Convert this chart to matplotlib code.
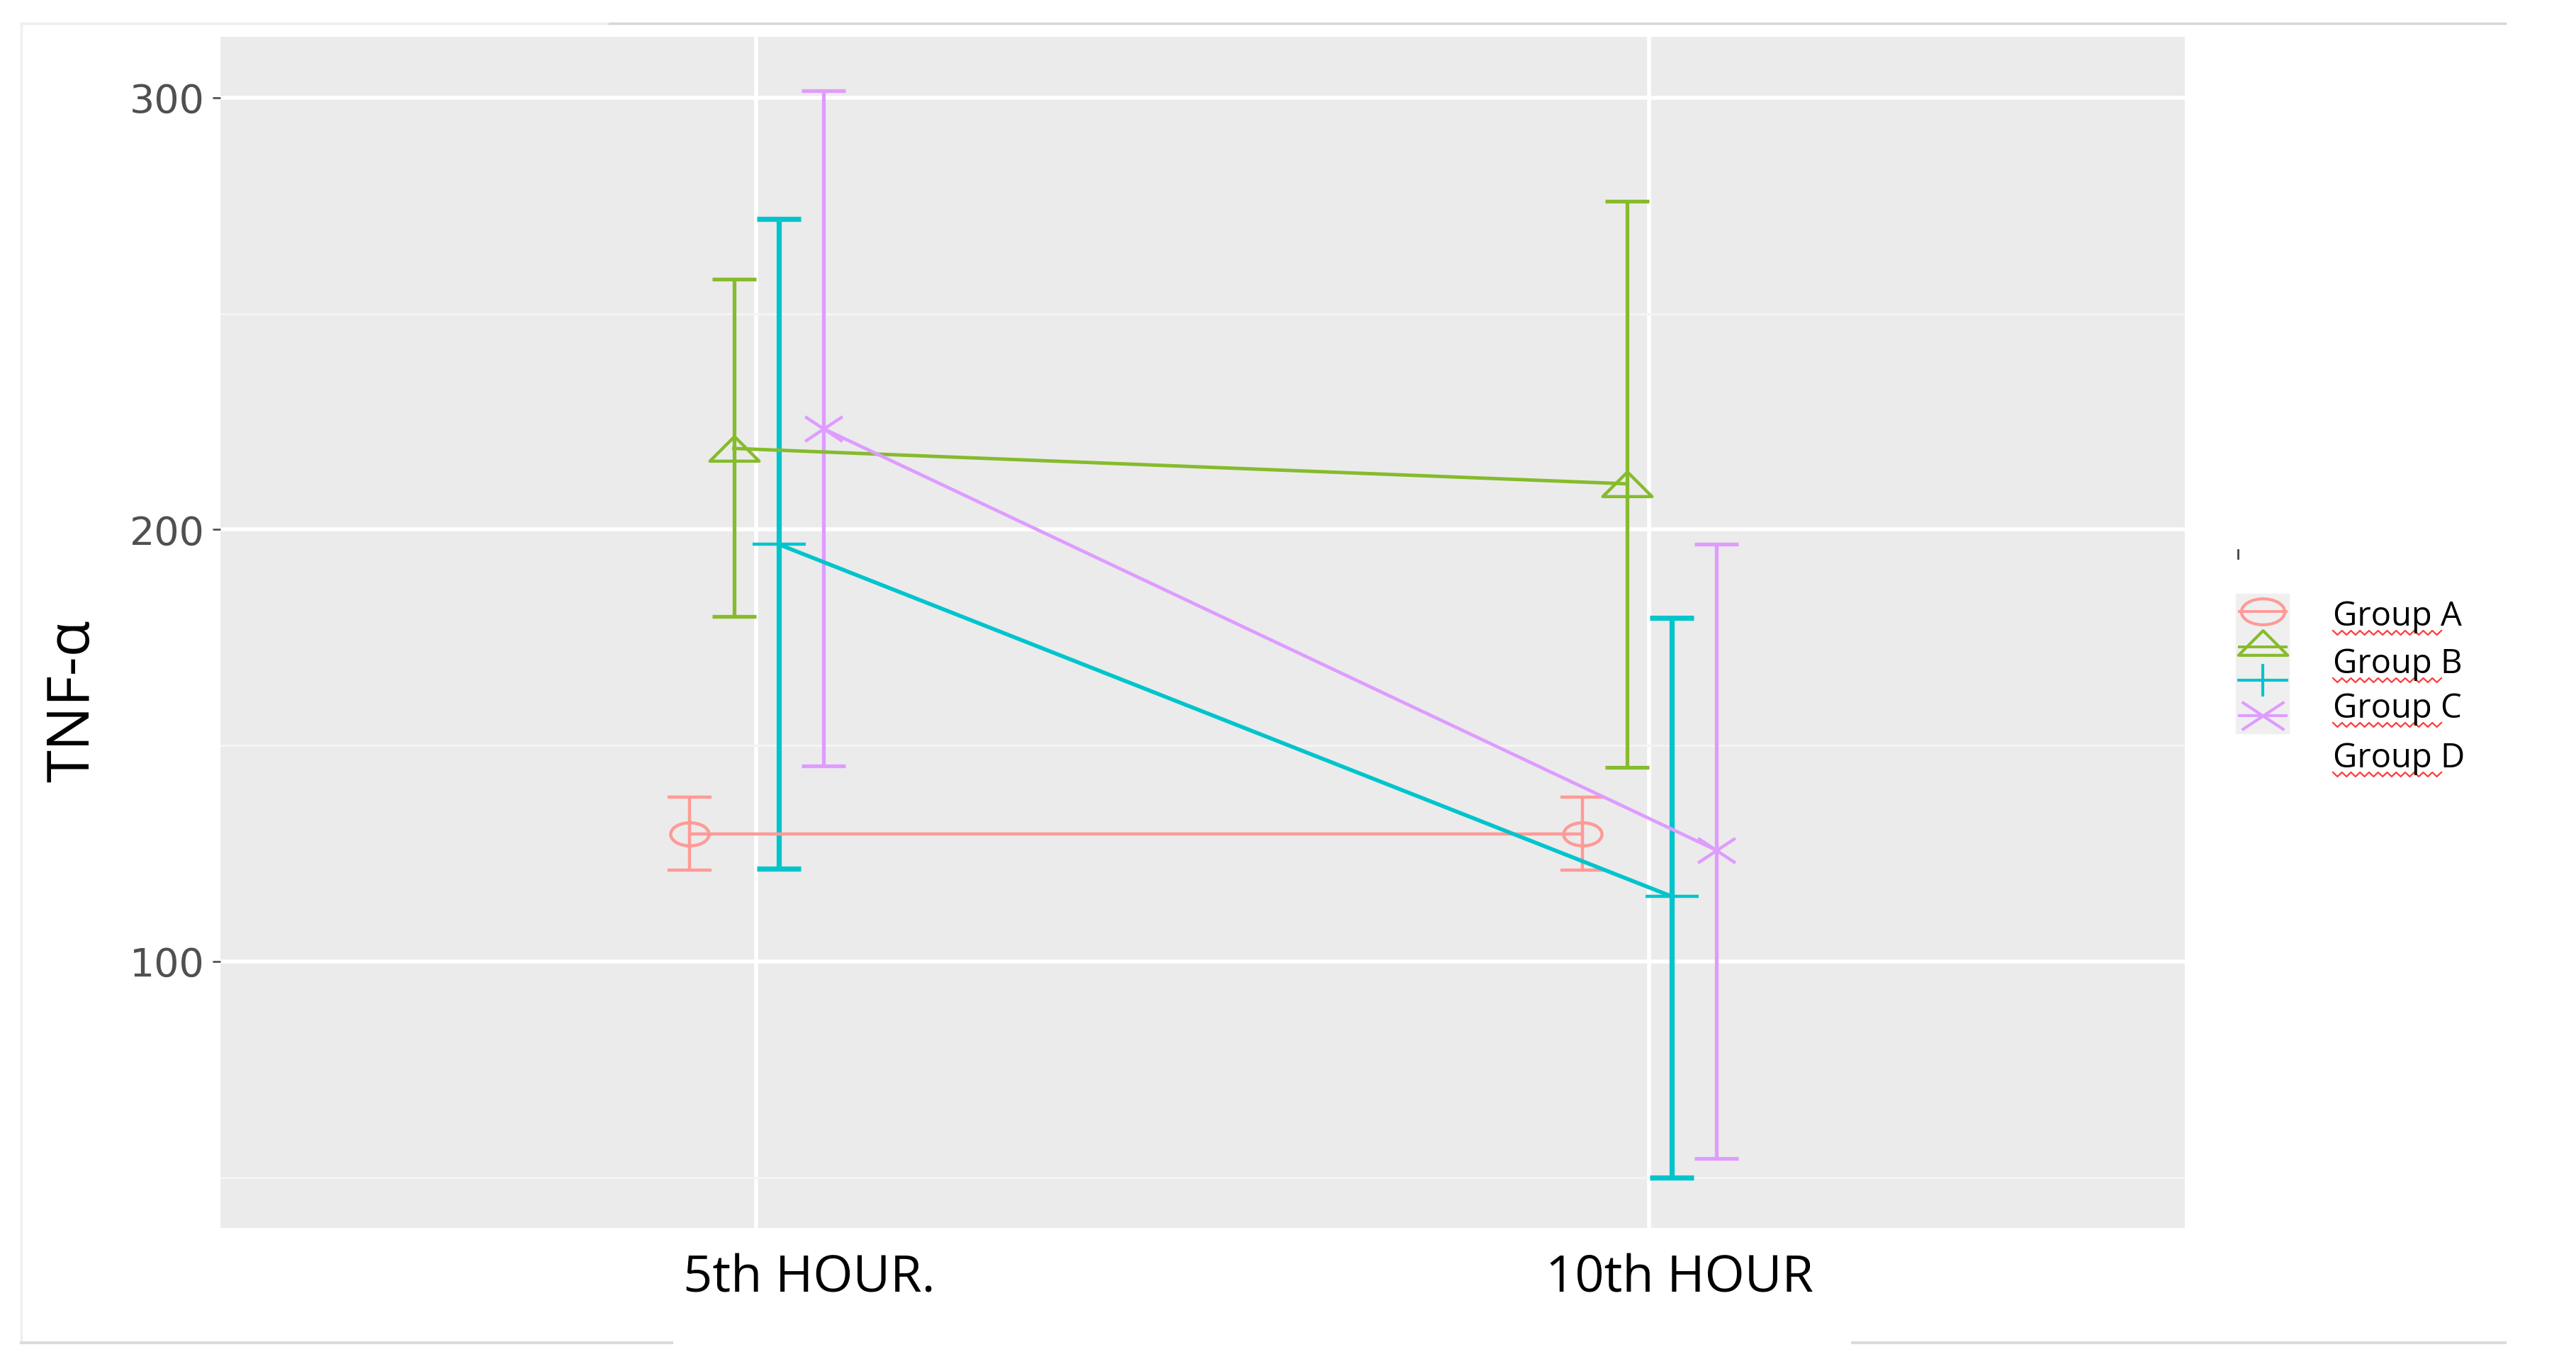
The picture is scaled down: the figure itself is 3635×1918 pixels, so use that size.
import numpy as np
import matplotlib
matplotlib.use('Agg')
import matplotlib.pyplot as plt
from matplotlib.path import Path
from matplotlib.transforms import Affine2D, ScaledTranslation

plt.rcParams['font.family'] = ['Open Sans', 'DejaVu Sans']

# 資料
hours = ['5th HOUR.', '10th HOUR']
groups = ['Group A', 'Group B', 'Group C', 'Group D']
dodge = [-0.075, -0.025, 0.025, 0.075]

mean_a = [129.5, 129.5]
lo_a = [121.2, 121.2]
hi_a = [138.1, 138.1]

mean_b = [218.8, 210.6]
lo_b = [179.9, 145.0]
hi_b = [258.0, 276.0]

mean_c = [196.6, 115.1]
lo_c = [121.5, 50.0]
hi_c = [271.9, 179.5]

mean_d = [223.4, 125.8]
lo_d = [145.3, 54.4]
hi_d = [301.6, 196.6]

y_ticks = [100, 200, 300]
y_minor = [50, 150, 250]

colors = ['#ff9a96', '#86bb2c', '#00c4cc', '#de9cff']
err_lw = [3.2, 3.8, 5.2, 3.8]
line_lw = [3.2, 3.5, 4.0, 3.4]

# 扁平的 ggplot 風格標記
m_circle = Path.unit_circle().transformed(Affine2D().scale(1.0, 0.6))
m_tri = Path([(-1, -0.5), (1, -0.5), (0, 0.5), (-1, -0.5)],
             [Path.MOVETO, Path.LINETO, Path.LINETO, Path.CLOSEPOLY])
m_plus = Path([(-1, 0), (1, 0), (0, -0.63), (0, 0.63)],
              [Path.MOVETO, Path.LINETO, Path.MOVETO, Path.LINETO])
m_x = Path([(-1, -0.66), (1, 0.66), (-1, 0.66), (1, -0.66)],
           [Path.MOVETO, Path.LINETO, Path.MOVETO, Path.LINETO])
markers = [m_circle, m_tri, m_plus, m_x]
msizes = [39, 50, 54, 38]

W, H = 3635, 1918
fig = plt.figure(figsize=(W / 100, H / 100), dpi=100)
fig.patch.set_facecolor('white')
ax = fig.add_axes([311 / W, 1 - 1733 / H, (3083 - 311) / W, (1733 - 52) / H])
ax.set_facecolor('#ebebeb')
for s in ax.spines.values():
    s.set_visible(False)

series = [(mean_a, lo_a, hi_a), (mean_b, lo_b, hi_b),
          (mean_c, lo_c, hi_c), (mean_d, lo_d, hi_d)]
xpos = np.arange(1, len(hours) + 1)

for i, (m, lo, hi) in enumerate(series):
    m = np.array(m)
    x = xpos + dodge[i]
    yerr = [m - np.array(lo), np.array(hi) - m]
    ax.errorbar(x, m, yerr=yerr, fmt='none', ecolor=colors[i],
                elinewidth=err_lw[i], capsize=22, capthick=err_lw[i], zorder=3)
    ax.plot(x, m, color=colors[i], lw=line_lw[i], zorder=4)
    ax.plot(x, m, linestyle='none', marker=markers[i], ms=msizes[i],
            mfc='none', mec=colors[i], mew=3.2, zorder=5)

ax.set_xlim(0.4, 2.6)
ax.set_ylim(38.3, 314.1)
ax.set_yticks(y_ticks)
ax.set_yticks(y_minor, minor=True)
ax.set_xticks(xpos)
ax.set_xticklabels(hours, fontsize=52, color='black')
ax.grid(True, which='major', color='white', lw=4.0, zorder=0)
ax.grid(True, which='minor', axis='y', color='#f4f4f4', lw=2.2, zorder=0)
ax.set_axisbelow(True)
ax.tick_params(axis='x', length=0, pad=26)
ax.tick_params(axis='y', which='major', length=8, width=2, color='#555555',
               pad=8, labelsize=40, labelcolor='#505050',
               labelfontfamily='DejaVu Sans')
ax.tick_params(axis='y', which='minor', length=0)

# 橫軸文字略向右偏
shifts = [75, 43]
for lab, dx in zip(ax.get_xticklabels(), shifts):
    lab.set_transform(lab.get_transform() + ScaledTranslation(dx / 100, 0, fig.dpi_scale_trans))

ax.set_ylabel('TNF-α', fontsize=60, color='black', va='center', ha='center')
ax.yaxis.set_label_coords((104 - 311) / (3083 - 311), (1733 - 989) / (1733 - 52))

# 外框與圖例（像素座標）
deco = fig.add_axes([0, 0, 1, 1], zorder=2)
deco.set_xlim(0, W)
deco.set_ylim(H, 0)
deco.set_axis_off()

deco.plot([30, 860], [33, 33], color='#eeeeee', lw=2.5)
deco.plot([860, 3535], [33, 33], color='#d6d6d6', lw=2.5)
deco.plot([30, 30], [33, 1895], color='#efefef', lw=2.5)
deco.plot([30, 948], [1895, 1895], color='#dcdcdc', lw=3)
deco.plot([2614, 3535], [1895, 1895], color='#dcdcdc', lw=3)

deco.plot([3158, 3158], [776, 788], color='#444444', lw=2)

deco.add_patch(plt.Rectangle((3155, 838), 75, 197, color='#efefef', zorder=1))
key_y = [863, 907, 960, 1010]
key_ms = [44, 50, 52, 43]
for i in range(4):
    deco.plot([3160, 3226], [key_y[i] + (6 if i == 1 else 0)] * 2,
              color=colors[i], lw=2.8, zorder=2)
    deco.plot([3193], [key_y[i]], linestyle='none', marker=markers[i], ms=key_ms[i],
              mfc='none', mec=colors[i], mew=3.0, zorder=3)

label_base = [883, 950, 1013, 1083]
wx = np.linspace(3292, 3445, 25)
for g, yb in zip(groups, label_base):
    deco.text(3292, yb, g, fontsize=34, color='black', ha='left', va='baseline')
    wy = yb + 10 + np.where(np.arange(len(wx)) % 2 == 0, -3, 3)
    deco.plot(wx, wy, color='#ff3b3b', lw=1.6)

fig.savefig('out.png', dpi=100, facecolor='white')
